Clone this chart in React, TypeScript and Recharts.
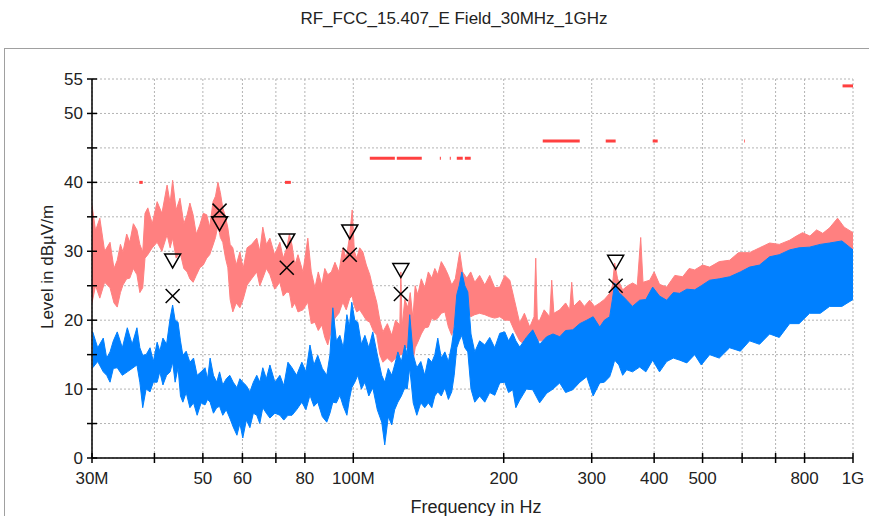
import { ComposedChart, Area, Line, Scatter, XAxis, YAxis, CartesianGrid } from 'recharts';

// peak trace (pink): frequency in MHz, upper / lower edge of the noise band in dBµV/m
const pkFreq = [30, 30.5, 31.1, 31.8, 32.6, 33.2, 33.7, 34.2, 34.6, 35.2, 35.7, 36.3, 36.9, 37.4, 37.9, 38.3, 38.8, 39.6, 40.5, 41.4, 42.4, 43, 43.5, 44.2, 45, 45.8, 46.5, 47.1, 47.8, 48.5, 49.3, 50.1, 50.9, 51.6, 52.4, 53, 53.6, 54.2, 54.8, 55.5, 56.1, 56.7, 57.4, 58.3, 59.3, 60.2, 61.3, 62.6, 64.1, 65, 65.9, 67, 68.1, 69.6, 71.3, 72.4, 73.6, 74.5, 75.4, 76.4, 77.5, 79.3, 81.1, 82.4, 83.8, 85.1, 86.5, 87.7, 88.9, 90.4, 91.9, 93.6, 95.3, 96.8, 98.4, 99.5, 100.5, 101.6, 103, 104.5, 106.2, 107.9, 109.6, 111.4, 113, 114.6, 117, 119.4, 121.5, 123.9, 124.5, 125.2, 126.8, 128.6, 130, 131.6, 133, 134.6, 136.8, 139, 141.3, 143.6, 145.6, 147.6, 150, 152.5, 155, 157.4, 160, 163.3, 165.5, 168.7, 171.8, 175, 179, 183.3, 187.5, 191.9, 196.4, 201, 205.7, 210, 215.3, 220, 225.5, 230, 231.8, 233.5, 236.1, 241, 247.2, 249.5, 252, 258.9, 266, 271, 273.6, 276, 283.9, 290, 297.2, 304, 311.3, 318, 325.9, 330, 333.5, 338, 346, 354, 362.3, 370, 376, 380, 391.9, 400, 410, 423.8, 440, 456.2, 470, 482.1, 500, 516.6, 540, 566.4, 590, 621, 650, 681, 712, 746.7, 770, 792.7, 820, 845.5, 870, 897.7, 931.4, 960, 1000];
const pkHi = [36.7, 33, 34.8, 30, 31.3, 27.5, 28.7, 31, 29.9, 32.5, 31.3, 34, 33.1, 31, 29.9, 35.5, 36.3, 34, 37.2, 35.5, 39.6, 37, 40.3, 36, 37.7, 34, 35.3, 37, 35.3, 32.5, 33.8, 35.5, 35.3, 33.5, 37.2, 38, 40, 38.5, 36.3, 35, 33.4, 31, 30.5, 28, 29.9, 27.5, 30.5, 31, 31.9, 30, 33.5, 31, 31.9, 29.5, 31.3, 29, 30.5, 32.5, 30.9, 28, 29.5, 27, 31.9, 27, 24.7, 27, 25.1, 27.5, 26.6, 27, 28.4, 27, 30.5, 29, 32.4, 36, 30, 29, 30.5, 29.9, 28, 26.6, 24.5, 22.6, 20, 18.3, 19.5, 17.8, 20, 19.3, 27, 19, 23, 21.8, 24, 20.3, 25, 23.7, 26, 24.7, 27, 26.1, 27.5, 26.6, 28.5, 27.6, 26.5, 25.1, 26, 29.9, 27, 26.1, 27, 25.5, 26.5, 25.1, 26.5, 24.7, 24.8, 26.5, 25.8, 23, 19.6, 21, 19, 20.5, 29, 20, 20, 21.5, 20.5, 25.8, 21, 21.5, 22.5, 21.5, 25.5, 22, 22.9, 22, 22.9, 22, 22.5, 23, 23.9, 25, 28.3, 26, 24.4, 25, 25.4, 25, 32, 25.5, 25.8, 27, 25.2, 24.8, 26.5, 26.3, 27.5, 27.3, 28, 27.7, 28.5, 28.7, 29.8, 29.8, 30.5, 31.2, 31, 31.6, 32.2, 32.7, 32.2, 33.1, 32.6, 33.4, 34.8, 33.5, 32.7];
const pkLo = [22.5, 25, 23.2, 25.5, 24.7, 22.5, 21.9, 24, 25.1, 26, 26.1, 27.5, 26.6, 24, 24.7, 29, 29.5, 30.5, 31.3, 30, 32.4, 30.5, 31.9, 29, 29.9, 27.5, 27, 26, 25.5, 26.5, 27.6, 28, 29, 29.5, 30.9, 32, 33.8, 32, 31.3, 29, 27.6, 23, 21.2, 22.5, 21.8, 23, 25.1, 26, 27, 25, 26.1, 27.5, 26.6, 24.5, 25.5, 23.5, 24.1, 24, 21.8, 22.5, 21.2, 21.5, 22.6, 19.5, 19.7, 18.5, 19.3, 17.5, 16.4, 18.5, 20.3, 21, 22.6, 21.5, 23.2, 23.5, 22, 21.2, 21.5, 20.8, 20, 19.7, 18.5, 17.8, 15, 13.9, 14.5, 13.9, 14.5, 14.9, 15, 15, 16, 16, 15, 13.9, 16, 16.8, 18, 18.9, 19, 20.3, 20, 20.3, 21, 21.2, 19, 17.8, 20, 22.6, 21.5, 21.8, 20.5, 20.8, 21, 20.8, 20.5, 20.3, 20.5, 20, 20, 18.5, 17, 16.5, 16.7, 17, 17, 17, 17, 17, 17, 17, 17, 17.5, 17.5, 18, 18, 18, 18, 18.5, 18.5, 18.5, 18.5, 19, 19, 20, 22, 21, 20, 20.5, 20.5, 21, 21, 21, 21, 21, 21.5, 21.5, 22, 22, 22.5, 22.5, 23, 23, 23.5, 24, 24.5, 25, 25.5, 26, 26.5, 27, 27, 27.5, 27.5, 28, 28, 28.5, 29, 29, 29];

// average trace (blue)
const avFreq = [30.1, 30.8, 31.6, 32.1, 32.6, 33.1, 33.7, 34.5, 35.3, 36.1, 36.9, 37.4, 37.9, 38.5, 39.2, 39.8, 40.5, 41, 41.6, 42.3, 43, 43.5, 44, 44.6, 45.1, 45.6, 46.3, 47.1, 47.9, 48.7, 49.6, 50.5, 51.1, 51.7, 52.5, 53.3, 54, 54.8, 55.7, 56.6, 57.5, 58.5, 59.3, 60.1, 61.1, 62.1, 63.1, 64.1, 65, 65.9, 67, 68.1, 69.7, 71.3, 72.6, 74, 75.4, 77, 78.9, 80.4, 81.9, 83.4, 84.9, 86.7, 88.5, 89.8, 91, 92.5, 94, 95.5, 97.1, 98.2, 99.3, 100.7, 102.1, 103.8, 105.5, 107.4, 109.4, 111.7, 114, 115.6, 117.5, 119.4, 121, 122.8, 124.8, 126.8, 128.2, 129.7, 131.8, 134, 136.5, 139, 141.3, 143.6, 145.6, 147.6, 150, 152.5, 155, 157.4, 159.2, 161.1, 162.9, 164.9, 167.2, 169.5, 172, 175, 179, 183.3, 187.5, 191.9, 196.4, 201, 204.5, 208.5, 211.5, 215.3, 222, 228.6, 236, 243.8, 251, 258.9, 266, 274.9, 284, 293.2, 302, 311.3, 318, 325.9, 330, 333.5, 340, 346, 352.5, 362, 374.2, 385, 397.3, 410, 423.8, 437, 449.9, 465, 482.1, 497, 516.6, 540, 566.4, 595, 621, 650, 681, 712, 746.7, 780, 818.7, 860, 897.7, 950, 1000];
const avHi = [18.3, 16, 17.4, 14.5, 15.4, 17, 18.3, 16, 18.9, 16.5, 18.9, 16, 14.9, 15, 16, 14, 16.8, 15.5, 17.4, 16.5, 20.3, 22.2, 20, 19.7, 17, 14.9, 15.5, 13.9, 14.5, 12, 12.5, 13.1, 11.5, 14.5, 12, 11, 12.5, 10.6, 11.5, 12, 11, 10.2, 11.5, 11, 10.5, 9.6, 11, 12, 11, 13.1, 11.5, 13.5, 11, 12, 10.5, 13.9, 13.1, 12, 13.9, 12.5, 16.4, 13.5, 14.9, 13, 12, 15, 21.8, 17, 17.8, 16, 20.8, 19, 22.6, 20, 19.7, 16.5, 17.8, 16, 18.3, 15, 12, 11, 13, 12, 13.5, 15.4, 14, 16.4, 15, 20.8, 15, 13.1, 14, 12, 14.5, 13.9, 15, 17.4, 14.5, 15.4, 14, 16.4, 19, 23.7, 25, 27, 25, 24.1, 18, 15.4, 17, 16.4, 17.5, 16, 18.1, 18.3, 17, 18.1, 17, 16.1, 17.5, 18.6, 16.5, 17.6, 18, 17.6, 18.5, 18.6, 19.5, 20, 20.5, 19, 20, 20.5, 23, 25.4, 24, 23.5, 22.9, 22, 22.9, 23, 24.8, 23.5, 22.9, 24, 23.9, 24.5, 24.4, 25, 25.8, 26, 26.3, 27, 27.7, 28, 29.2, 29.5, 30.2, 30.5, 30.6, 31, 31.2, 31.5, 30.2];
const avLo = [13.1, 14, 12.5, 12, 11, 13, 13.1, 12, 12.5, 13, 13.5, 11, 7.3, 10, 9.6, 11, 11, 12.5, 10.6, 12, 12.5, 13.9, 11, 13.1, 9, 8.1, 9.5, 7.3, 8, 6.2, 8, 7.7, 8.5, 8.1, 6.5, 7.3, 7.5, 6.2, 7, 5.8, 4.5, 3.3, 5, 2.9, 5.5, 4.4, 6.5, 6.2, 5, 7.3, 6.5, 5.8, 6.5, 6.2, 5.5, 6.2, 6.2, 7, 8.1, 7, 9.1, 7.5, 8.1, 6, 5.2, 6.5, 8.1, 8, 9.1, 7.5, 6.2, 8.5, 10.2, 11, 12, 10, 11, 9, 10.2, 7, 5.2, 1.9, 6, 4.8, 7, 8.1, 9, 10.2, 10, 13.1, 8, 6.2, 8, 7.3, 8, 7.3, 9, 9.6, 9, 10.2, 8.5, 9.6, 12, 16, 17, 17.8, 16, 15.4, 10, 8.1, 9, 8.1, 9.5, 9.1, 10.9, 11, 9.5, 9.9, 7.3, 8.4, 10, 9.9, 8, 9.4, 10, 10.9, 9.5, 9.9, 11, 11.8, 9, 10.9, 11, 11.8, 13, 14.2, 13.5, 12, 12.8, 12.5, 13.2, 12.5, 14.2, 12.5, 14, 14.5, 14.2, 13.8, 15, 13.5, 15, 14.5, 16, 15.5, 17, 16.5, 18, 17.5, 19.5, 19.5, 21, 21, 22, 22, 23];

// limit line pieces: [from MHz, to MHz, level]
const limitSegs: [number, number, number][] = [
  [37.3, 37.9, 40], [73, 75, 40],
  [107.9, 121.1, 43.5], [122.2, 137.1, 43.5], [149, 149.7, 43.5], [156, 156.7, 43.5], [161.1, 165.6, 43.5], [167.2, 171.8, 43.5],
  [239.4, 283.9, 46], [320, 335, 46], [397.3, 406.6, 46], [606, 608, 46],
  [953, 1000, 54],
];

// final measurement markers
const markFreq = [43.5, 54, 73.6, 98.4, 124.5, 335];
const markQp = [23.5, 35.9, 27.6, 29.5, 23.8, 25];
const markPk = [28.6, 34, 31.5, 32.8, 27.2, 28.4];

const xTicks = [30, 40, 50, 60, 70, 80, 100, 200, 300, 400, 500, 600, 700, 800, 1000];
const xLabels = ['30M', '', '50', '60', '', '80', '100M', '200', '300', '400', '500', '', '', '800', '1G'];
const yTicks = [0, 5, 10, 15, 20, 25, 30, 35, 40, 45, 50, 55];
const yLabels = ['0', '', '10', '', '20', '', '30', '', '40', '', '50', '55'];

const font = '"Liberation Sans", Arial, sans-serif';

const pkData = pkFreq.map((f, i) => ({ f, r: [pkLo[i], pkHi[i]] }));
const avData = avFreq.map((f, i) => ({ f, r: [avLo[i], avHi[i]] }));
const qpData = markFreq.map((f, i) => ({ f, v: markQp[i] }));
const pkMarkData = markFreq.map((f, i) => ({ f, v: markPk[i] }));

function XTick({ x, y, payload }: any) {
  const label = xLabels[xTicks.indexOf(payload.value)];
  return (
    <g>
      <line x1={x} x2={x} y1={y - 5} y2={y + 5} stroke="#000" strokeWidth={1.5} />
      {label && (
        <text x={x} y={y + 26} textAnchor="middle" fontSize={17} fontFamily={font} fill="#222">
          {label}
        </text>
      )}
    </g>
  );
}

function YTick({ x, y, payload }: any) {
  const label = yLabels[yTicks.indexOf(payload.value)];
  return (
    <g>
      <line x1={x - 5} x2={x + 5} y1={y} y2={y} stroke="#000" strokeWidth={1.5} />
      {label && (
        <text x={x - 9} y={y + 6} textAnchor="end" fontSize={17} fontFamily={font} fill="#222">
          {label}
        </text>
      )}
    </g>
  );
}

const Tri = ({ cx, cy }: any) => (
  <polygon points={`${cx - 8},${cy - 7} ${cx + 8},${cy - 7} ${cx},${cy + 7}`} fill="none" stroke="#000" strokeWidth={1.5} />
);

const Cross = ({ cx, cy }: any) => (
  <g stroke="#000" strokeWidth={1.5}>
    <line x1={cx - 7} y1={cy - 7} x2={cx + 7} y2={cy + 7} />
    <line x1={cx - 7} y1={cy + 7} x2={cx + 7} y2={cy - 7} />
  </g>
);

export default function App() {
  return (
    <div style={{ position: 'absolute', left: 0, top: 0, width: 869, height: 516, background: '#fff', fontFamily: font }}>
      <div style={{ position: 'absolute', left: 0, top: 9, width: 908, textAlign: 'center', fontSize: 17, color: '#222' }}>
        RF_FCC_15.407_E Field_30MHz_1GHz
      </div>
      <div style={{ position: 'absolute', left: 4, top: 48, width: 880, height: 480, borderTop: '1px solid #a0a0a0', borderLeft: '1px solid #a0a0a0' }} />
      <div style={{ position: 'absolute', left: 0, top: 0 }}>
        <ComposedChart width={869} height={516} margin={{ top: 79, right: 16, bottom: 0, left: 0 }}>
          <CartesianGrid stroke="#b4b4b4" strokeDasharray="2 2" />
          <XAxis
            dataKey="f"
            type="number"
            scale="log"
            domain={[30, 1000]}
            ticks={xTicks}
            interval={0}
            height={58}
            tickSize={0}
            tickMargin={0}
            tick={<XTick />}
            stroke="#000"
            strokeWidth={1.5}
            allowDataOverflow
          />
          <YAxis
            type="number"
            domain={[0, 55]}
            ticks={yTicks}
            interval={0}
            width={92}
            tickSize={0}
            tickMargin={0}
            tick={<YTick />}
            stroke="#000"
            strokeWidth={1.5}
            allowDataOverflow
          />
          <Area data={pkData} dataKey="r" type="linear" stroke="#ff8080" fill="#ff8080" fillOpacity={1} strokeWidth={1} dot={false} activeDot={false} isAnimationActive={false} />
          <Area data={avData} dataKey="r" type="linear" stroke="#0080ff" fill="#0080ff" fillOpacity={1} strokeWidth={1} dot={false} activeDot={false} isAnimationActive={false} />
          {limitSegs.map(([a, b, lv], i) => (
            <Line
              key={i}
              data={[{ f: a, v: lv }, { f: b, v: lv }]}
              dataKey="v"
              stroke="#ff4040"
              strokeWidth={3}
              dot={false}
              activeDot={false}
              isAnimationActive={false}
            />
          ))}
          <Scatter data={pkMarkData} dataKey="v" shape={<Tri />} isAnimationActive={false} />
          <Scatter data={qpData} dataKey="v" shape={<Cross />} isAnimationActive={false} />
        </ComposedChart>
      </div>
      <div style={{ position: 'absolute', left: 48, top: 267, transform: 'translate(-50%, -50%) rotate(-90deg)', whiteSpace: 'nowrap', fontSize: 17, color: '#222' }}>
        Level in dBµV/m
      </div>
      <div style={{ position: 'absolute', left: 476, top: 497, transform: 'translateX(-50%)', whiteSpace: 'nowrap', fontSize: 18, color: '#222' }}>
        Frequency in Hz
      </div>
    </div>
  );
}
